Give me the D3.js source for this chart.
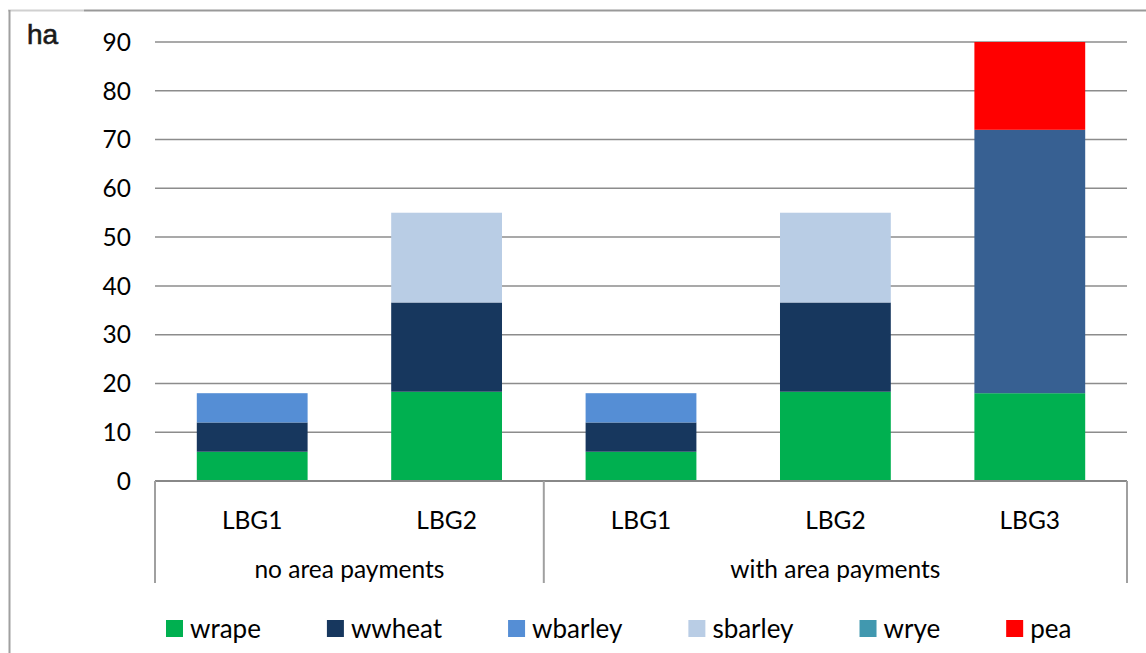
<!DOCTYPE html>
<html>
<head>
<meta charset="utf-8">
<script src="https://cdn.jsdelivr.net/npm/d3@7"></script>
<style>
  body { margin: 0; background: #fff; }
  svg { display: block; font-family: Lato, "Open Sans", sans-serif; }
</style>
</head>
<body>
<svg id="chart" width="1146" height="653"></svg>
<script>
// categories and groups
var categories = ["LBG1", "LBG2", "LBG1", "LBG2", "LBG3"];
var groups = ["no area payments", "with area payments"];
var groupOf = [0, 0, 1, 1, 1];

// series values (ha) per category, in stacking order
var wrape   = [6, 18.3, 6, 18.3, 18];
var wwheat  = [6, 18.3, 6, 18.3, 0];
var wbarley = [6, 0, 6, 0, 0];
var sbarley = [0, 18.4, 0, 18.4, 0];
var wrye    = [0, 0, 0, 0, 0];
var other   = [0, 0, 0, 0, 54];   // bar segment with no legend entry
var pea     = [0, 0, 0, 0, 18];

var yTicks = [0, 10, 20, 30, 40, 50, 60, 70, 80, 90];

var series = [
    {name: "wrape",   values: wrape,   color: "#00b050", legend: true},
    {name: "wwheat",  values: wwheat,  color: "#17375e", legend: true},
    {name: "wbarley", values: wbarley, color: "#558ed5", legend: true},
    {name: "sbarley", values: sbarley, color: "#b9cde5", legend: true},
    {name: "wrye",    values: wrye,    color: "#4198af", legend: true},
    {name: "other",   values: other,   color: "#376092", legend: false},
    {name: "pea",     values: pea,     color: "#ff0000", legend: true}
];

var svg = d3.select("#chart");
var margin = {top: 42, right: 19, bottom: 172, left: 155};
var width = 1146, height = 653;
var fontSize = 24.5;

// frame around the chart
svg.append("line").attr("x1", 8).attr("x2", 84).attr("y1", 10.5).attr("y2", 10.5)
    .attr("stroke", "#d0d0d0").attr("stroke-width", 2);
svg.append("line").attr("x1", 84).attr("x2", width).attr("y1", 10.5).attr("y2", 10.5)
    .attr("stroke", "#999").attr("stroke-width", 2);
svg.append("line").attr("x1", 9.5).attr("x2", 9.5).attr("y1", 10).attr("y2", height)
    .attr("stroke", "#a0a0a0").attr("stroke-width", 2);

var x = d3.scaleBand()
    .domain(d3.range(categories.length))
    .range([margin.left, width - margin.right])
    .paddingInner(0.43)
    .paddingOuter(0.215);

var y = d3.scaleLinear()
    .domain([0, 90])
    .range([height - margin.bottom, margin.top]);

// gridlines
svg.append("g")
    .selectAll("line")
    .data(yTicks.slice(1))
    .enter()
    .append("line")
    .attr("x1", margin.left)
    .attr("x2", width - margin.right)
    .attr("y1", function(d) { return y(d); })
    .attr("y2", function(d) { return y(d); })
    .attr("stroke", "#8c8c8c")
    .attr("stroke-width", 1.5);

// y tick labels
svg.append("g")
    .selectAll("text")
    .data(yTicks)
    .enter()
    .append("text")
    .attr("x", 131)
    .attr("y", function(d) { return y(d); })
    .attr("dy", "0.36em")
    .attr("text-anchor", "end")
    .attr("font-size", fontSize)
    .attr("fill", "#000")
    .text(function(d) { return d; });

// stacked bars
var stackData = categories.map(function(c, i) {
    var row = {i: i};
    series.forEach(function(s) { row[s.name] = s.values[i]; });
    return row;
});
var stack = d3.stack().keys(series.map(function(s) { return s.name; }));
var layers = stack(stackData);

svg.append("g")
    .selectAll("g")
    .data(layers)
    .enter()
    .append("g")
    .attr("fill", function(d, i) { return series[i].color; })
    .selectAll("rect")
    .data(function(d) { return d.filter(function(p) { return p[1] - p[0] > 0; }); })
    .enter()
    .append("rect")
    .attr("x", function(d) { return x(d.data.i); })
    .attr("width", x.bandwidth())
    .attr("y", function(d) { return y(d[1]); })
    .attr("height", function(d) { return y(d[0]) - y(d[1]); });

// category axis
var axisY = y(0);
var axisBottom = axisY + 102;
svg.append("line")
    .attr("x1", margin.left).attr("x2", width - margin.right)
    .attr("y1", axisY).attr("y2", axisY)
    .attr("stroke", "#888").attr("stroke-width", 2);

var groupBounds = groups.map(function(g, gi) {
    var idx = d3.range(categories.length).filter(function(i) { return groupOf[i] === gi; });
    var first = idx[0], last = idx[idx.length - 1];
    return {
        name: g,
        x0: x(first) - x.step() * x.paddingInner() / 2,
        x1: x(last) + x.bandwidth() + x.step() * x.paddingInner() / 2
    };
});

var seps = [groupBounds[0].x0].concat(groupBounds.map(function(b) { return b.x1; }));
svg.append("g")
    .selectAll("line")
    .data(seps)
    .enter()
    .append("line")
    .attr("x1", function(d) { return d; })
    .attr("x2", function(d) { return d; })
    .attr("y1", axisY)
    .attr("y2", axisBottom)
    .attr("stroke", "#a0a0a0")
    .attr("stroke-width", 2);

svg.append("g")
    .selectAll("text")
    .data(categories)
    .enter()
    .append("text")
    .attr("x", function(d, i) { return x(i) + x.bandwidth() / 2; })
    .attr("y", axisY + 39)
    .attr("dy", "0.36em")
    .attr("text-anchor", "middle")
    .attr("font-size", fontSize)
    .text(function(d) { return d; });

svg.append("g")
    .selectAll("text")
    .data(groupBounds)
    .enter()
    .append("text")
    .attr("x", function(d) { return (d.x0 + d.x1) / 2; })
    .attr("y", axisY + 88)
    .attr("dy", "0.36em")
    .attr("text-anchor", "middle")
    .attr("font-size", fontSize)
    .text(function(d) { return d.name; });

// unit label
svg.append("text")
    .attr("x", 27)
    .attr("y", 44)
    .attr("font-family", "Liberation Sans, Arial, sans-serif")
    .attr("font-size", 28)
    .attr("fill", "#1a1a1a")
    .attr("stroke", "#1a1a1a")
    .attr("stroke-width", 0.6)
    .text("ha");

// legend
var legend = svg.append("g");
var lx = 166;
series.filter(function(s) { return s.legend; }).forEach(function(s) {
    var item = legend.append("g").attr("transform", "translate(" + lx + ",620)");
    item.append("rect").attr("width", 17).attr("height", 17).attr("fill", s.color);
    var t = item.append("text")
        .attr("x", 24)
        .attr("y", 9)
        .attr("dy", "0.36em")
        .attr("font-size", 26)
        .text(s.name);
    lx += 24 + t.node().getComputedTextLength() + 66;
});
</script>
</body>
</html>
